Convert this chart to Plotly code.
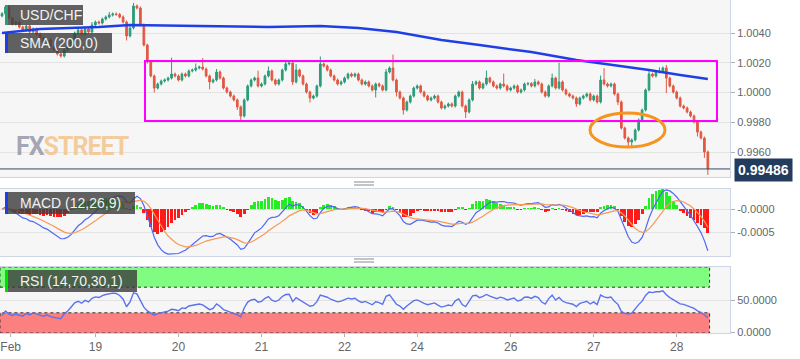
import plotly.graph_objects as go

# ---------------- data ----------------
closes = [
    1.00530, 1.00575, 1.00500, 1.00461, 1.00474, 1.00440, 1.00420, 1.00447, 1.00407, 1.00427,
    1.00393, 1.00366, 1.00340, 1.00353, 1.00306, 1.00286, 1.00259, 1.00245, 1.00286, 1.00313,
    1.00353, 1.00400, 1.00420, 1.00393, 1.00427, 1.00407, 1.00454, 1.00474, 1.00467, 1.00494,
    1.00508, 1.00521, 1.00528, 1.00525, 1.00508, 1.00474, 1.00380, 1.00434, 1.00582, 1.00568,
    1.00454, 1.00319, 1.00205, 1.00111, 1.00030, 1.00057, 1.00077, 1.00084, 1.00097, 1.00124,
    1.00111, 1.00084, 1.00124, 1.00111, 1.00145, 1.00151, 1.00165, 1.00171, 1.00158, 1.00111,
    1.00071, 1.00084, 1.00138, 1.00097, 1.00030, 1.00003, 0.99976, 0.99950, 0.99903, 0.99842,
    0.99950, 1.00044, 1.00084, 1.00097, 1.00044, 1.00057, 1.00111, 1.00145, 1.00084, 1.00057,
    1.00084, 1.00151, 1.00192, 1.00198, 1.00071, 1.00151, 1.00111, 1.00057, 1.00003, 0.99963,
    0.99976, 1.00044, 1.00192, 1.00178, 1.00151, 1.00111, 1.00084, 1.00057, 1.00071, 1.00097,
    1.00124, 1.00111, 1.00124, 1.00084, 1.00057, 1.00071, 1.00044, 1.00017, 1.00057, 1.00044,
    1.00017, 1.00138, 1.00165, 1.00084, 1.00003, 0.99963, 0.99882, 0.99936, 0.99976, 1.00030,
    1.00044, 1.00003, 0.99976, 0.99950, 0.99963, 0.99976, 0.99936, 0.99896, 0.99909, 0.99923,
    0.99909, 0.99976, 1.00003, 0.99909, 0.99869, 0.99950, 1.00057, 1.00071, 1.00030, 1.00057,
    1.00097, 1.00071, 1.00044, 1.00030, 1.00057, 1.00044, 1.00017, 1.00030, 1.00044, 1.00003,
    1.00017, 1.00057, 1.00060, 1.00044, 1.00071, 1.00057, 1.00003, 0.99976, 1.00044, 1.00097,
    1.00030, 1.00071, 1.00017, 0.99990, 0.99976, 0.99963, 0.99923, 0.99963, 0.99976, 0.99990,
    0.99950, 0.99976, 0.99936, 1.00084, 1.00057, 1.00044, 1.00057, 0.99990, 0.99936, 0.99761,
    0.99694, 0.99667, 0.99681, 0.99748, 0.99815, 0.99882, 1.00017, 1.00124, 1.00111, 1.00138,
    1.00140, 1.00165, 1.00097, 1.00044, 1.00003, 0.99963, 0.99909, 0.99896, 0.99869, 0.99842,
    0.99802, 0.99734, 0.99694, 0.99600, 0.99486,
]
first_open = 1.00515

# wick lengths in pips (0.0001)
wick_up_pips = [
    1, 1, 1, 1, 1, 1, 1, 1, 1, 1,
    1, 1, 1, 1, 1, 1, 1, 1, 1, 1,
    1, 1, 1, 1, 1, 1, 2, 1, 1, 1,
    1, 2, 1, 1, 1, 1, 1, 1, 2, 1,
    1, 1, 1, 1, 1, 1, 1, 1, 1, 11,
    1, 1, 1, 1, 1, 1, 3, 1, 6, 1,
    1, 1, 2, 1, 1, 1, 1, 1, 1, 1,
    1, 1, 1, 1, 5, 1, 1, 3, 1, 1,
    1, 1, 2, 1, 1, 4, 1, 1, 1, 1,
    1, 1, 5, 1, 1, 1, 1, 1, 1, 1,
    1, 1, 1, 1, 1, 1, 1, 1, 1, 1,
    1, 2, 1, 9, 1, 1, 1, 1, 1, 1,
    1, 1, 1, 1, 1, 1, 1, 1, 1, 1,
    1, 1, 1, 1, 1, 1, 2, 1, 1, 1,
    5, 1, 1, 1, 1, 7, 1, 1, 1, 1,
    1, 1, 1, 1, 2, 1, 1, 1, 1, 3,
    1, 13, 1, 1, 1, 1, 1, 1, 1, 1,
    1, 1, 1, 3, 8, 1, 1, 1, 1, 1,
    1, 1, 1, 1, 1, 1, 1, 2, 1, 1,
    3, 1, 2, 1, 1, 1, 1, 1, 1, 1,
    1, 1, 1, 1, 1,
]
wick_dn_pips = [
    1, 1, 1, 1, 1, 1, 1, 1, 1, 1,
    1, 1, 1, 1, 1, 1, 1, 1, 1, 1,
    1, 1, 1, 1, 1, 1, 1, 1, 1, 1,
    1, 1, 1, 1, 1, 1, 3, 1, 1, 1,
    1, 1, 1, 1, 3, 1, 1, 1, 1, 1,
    1, 1, 1, 1, 1, 1, 1, 1, 1, 1,
    5, 1, 1, 1, 1, 1, 1, 1, 2, 3,
    1, 1, 1, 1, 1, 1, 1, 1, 1, 1,
    1, 1, 1, 1, 2, 1, 1, 1, 1, 3,
    1, 1, 1, 1, 1, 1, 1, 1, 1, 1,
    1, 1, 1, 1, 1, 1, 1, 1, 5, 1,
    1, 1, 1, 1, 3, 1, 3, 1, 1, 1,
    1, 1, 1, 1, 1, 1, 1, 1, 1, 1,
    1, 1, 1, 1, 4, 1, 1, 1, 1, 1,
    1, 1, 1, 1, 1, 1, 1, 1, 1, 1,
    1, 1, 1, 1, 1, 1, 1, 1, 1, 1,
    1, 1, 1, 1, 1, 1, 2, 1, 1, 1,
    1, 1, 1, 1, 1, 1, 1, 1, 2, 1,
    1, 3, 4, 1, 1, 1, 1, 1, 1, 1,
    1, 1, 10, 1, 1, 1, 1, 1, 1, 1,
    1, 3, 1, 4, 4,
]

sma_idx = [0, 11, 28, 37, 57, 77, 92, 103, 114, 127, 138, 153, 166, 179, 187, 196, 204]
sma_val = [1.00400, 1.00427, 1.00440, 1.00454, 1.00447, 1.00440, 1.00447, 1.00434, 1.00407,
           1.00353, 1.00319, 1.00272, 1.00218, 1.00178, 1.00151, 1.00118, 1.00091]

day_labels = ["Feb", "19", "20", "21", "22", "24", "26", "27", "28"]
day_start_idx = [2.5, 27, 51, 75, 99, 120, 147, 171, 195]

last_price = 0.99486
price_ticks = [1.0040, 1.0020, 1.0000, 0.9980, 0.9960]
macd_ticks = [0.0, -0.0005]
macd_tick_text = ["-0.0000", "-0.0005"]
rsi_ticks = [50, 0]
rsi_tick_text = ["50.0000", "0.0000"]

# ---------------- derived ----------------
n = len(closes)
idx = list(range(n))
opens = [first_open] + closes[:-1]
highs = [max(o, c) + u * 1e-4 for o, c, u in zip(opens, closes, wick_up_pips)]
lows = [min(o, c) - d * 1e-4 for o, c, d in zip(opens, closes, wick_dn_pips)]


def ema(vals, span):
    a = 2.0 / (span + 1)
    out = [vals[0]]
    for v in vals[1:]:
        out.append(out[-1] + a * (v - out[-1]))
    return out


e12 = ema(closes, 12)
e26 = ema(closes, 26)
macd = [a - b for a, b in zip(e12, e26)]
signal = ema(macd, 9)
hist = [m - s for m, s in zip(macd, signal)]

diffs = [0.0] + [closes[i] - closes[i - 1] for i in range(1, n)]
gains = [max(d, 0) for d in diffs]
losses = [max(-d, 0) for d in diffs]
ag = sum(gains[1:15]) / 14
al = sum(losses[1:15]) / 14
rsi = []
for i in range(n):
    if i > 0:
        ag = (ag * 13 + gains[i]) / 14
        al = (al * 13 + losses[i]) / 14
    rsi.append(100 - 100 / (1 + ag / al) if al > 0 else 100)

# ---------------- styling ----------------
W, H = 800, 359
UP = "#2b9c79"
DN = "#e25843"
GRID = "#e3e3e3"
BORDER = "#cdd4e4"
TXT = "#666666"
FONT = "Arial, Liberation Sans, sans-serif"
XR = [-0.58, 210.4]


def px(x):
    return x / W


def py(y):
    return 1 - y / H


fig = go.Figure()
fig.add_trace(go.Candlestick(
    x=idx, open=opens, high=highs, low=lows, close=closes,
    increasing=dict(line=dict(color=UP, width=1), fillcolor=UP),
    decreasing=dict(line=dict(color=DN, width=1), fillcolor=DN),
    whiskerwidth=0, showlegend=False, hoverinfo="skip", xaxis="x", yaxis="y"))
fig.add_trace(go.Scatter(x=sma_idx, y=sma_val, mode="lines",
                         line=dict(color="#1f3fe6", width=2.5),
                         showlegend=False, hoverinfo="skip", xaxis="x", yaxis="y"))
fig.add_trace(go.Scatter(x=[XR[0], XR[1]], y=[last_price, last_price], mode="lines",
                         line=dict(color="#34486a", width=1),
                         showlegend=False, hoverinfo="skip", xaxis="x", yaxis="y"))

fig.add_trace(go.Bar(x=idx, y=hist, width=0.8,
                     marker=dict(color=["#22ee22" if h >= 0 else "#ff1a1a" for h in hist],
                                 line=dict(width=0)),
                     showlegend=False, hoverinfo="skip", xaxis="x2", yaxis="y2"))
fig.add_trace(go.Scatter(x=idx, y=macd, mode="lines", line=dict(color="#5068f2", width=1.2),
                         showlegend=False, hoverinfo="skip", xaxis="x2", yaxis="y2"))
fig.add_trace(go.Scatter(x=idx, y=signal, mode="lines", line=dict(color="#f59a55", width=1.2),
                         showlegend=False, hoverinfo="skip", xaxis="x2", yaxis="y2"))

fig.add_trace(go.Scatter(x=idx, y=rsi, mode="lines", line=dict(color="#5a72ee", width=1.4),
                         showlegend=False, hoverinfo="skip", xaxis="x3", yaxis="y3"))

axis_common = dict(showline=True, mirror=True, linecolor=BORDER, linewidth=1, zeroline=False,
                   automargin=False)
yax_common = dict(side="right", showgrid=True, gridcolor=GRID, gridwidth=1,
                  ticks="outside", ticklen=4, tickcolor="#b0b0b0",
                  tickfont=dict(family=FONT, size=11, color=TXT), **axis_common)

fig.update_layout(
    width=W, height=H, margin=dict(l=0, r=0, t=0, b=0, pad=0, autoexpand=False),
    paper_bgcolor="#ffffff", plot_bgcolor="#f6f6f6",
    showlegend=False, bargap=0,
    xaxis=dict(domain=[0, 0.9125], range=XR, showticklabels=False, showgrid=False,
               anchor="y", rangeslider=dict(visible=False), **axis_common),
    xaxis2=dict(domain=[0, 0.9125], range=XR, showticklabels=False, showgrid=False,
                anchor="y2", matches="x", **axis_common),
    xaxis3=dict(domain=[0, 0.9125], range=XR, showgrid=False, anchor="y3", matches="x",
                tickmode="array", tickvals=day_start_idx, ticktext=day_labels,
                ticks="outside", ticklen=3, tickcolor="#b0b0b0",
                tickfont=dict(family=FONT, size=12, color=TXT), **axis_common),
    yaxis=dict(domain=[py(177), 1.0], range=[0.994319, 1.006219],
               tickmode="array", tickvals=price_ticks,
               ticktext=["%.4f" % v for v in price_ticks], anchor="x", **yax_common),
    yaxis2=dict(domain=[py(256), py(189)], range=[-0.001022, 0.000435],
                tickmode="array", tickvals=macd_ticks, ticktext=macd_tick_text,
                anchor="x2", **yax_common),
    yaxis3=dict(domain=[py(333), py(267)], range=[-1.56, 101.56],
                tickmode="array", tickvals=rsi_ticks, ticktext=rsi_tick_text,
                anchor="x3", **yax_common),
)

shapes = []
# RSI bands
shapes.append(dict(type="rect", xref="x3", yref="y3", x0=XR[0], x1=n - 0.5, y0=70, y1=101.56,
                   fillcolor="#80fc80", line=dict(color="#333333", width=1, dash="dot"),
                   layer="between"))
shapes.append(dict(type="rect", xref="x3", yref="y3", x0=XR[0], x1=n - 0.5, y0=-1.56, y1=30,
                   fillcolor="#fd8080", line=dict(color="#333333", width=1, dash="dot"),
                   layer="between"))
# magenta range box
shapes.append(dict(type="rect", xref="paper", yref="paper", x0=px(145), x1=px(717),
                   y0=py(121), y1=py(61), line=dict(color="#ff00ff", width=2)))
# orange ellipse
shapes.append(dict(type="circle", xref="paper", yref="paper", x0=px(590), x1=px(665),
                   y0=py(147), y1=py(113), line=dict(color="#f7941d", width=3)))
# separators
for yy in (182, 185, 259, 262):
    shapes.append(dict(type="line", xref="paper", yref="paper", x0=px(354), x1=px(374),
                       y0=py(yy), y1=py(yy), line=dict(color="#8a8a8a", width=1)))
# label boxes and colour bars
labels = [
    ("USD/CHF", 5, 25, 83, UP),
    ("SMA (200,0)", 33, 53, 112, "#1f3fe6"),
    ("MACD (12,26,9)", 192, 214, 135, "#1f3fe6"),
    ("RSI (14,70,30,1)", 270, 292, 137, "#00e000"),
]
annotations = []
for text, y0, y1, x1, col in labels:
    shapes.append(dict(type="rect", xref="paper", yref="paper", x0=px(8), x1=px(x1),
                       y0=py(y1), y1=py(y0), fillcolor="rgba(62,62,62,0.82)", line=dict(width=0)))
    shapes.append(dict(type="rect", xref="paper", yref="paper", x0=px(5), x1=px(8),
                       y0=py(y1), y1=py(y0), fillcolor=col, line=dict(width=0)))
    annotations.append(dict(xref="paper", yref="paper", x=px(18), y=py((y0 + y1) / 2),
                            xanchor="left", yanchor="middle", showarrow=False, text=text,
                            font=dict(family=FONT, size=14, color="#f2f2f2")))

# watermark
annotations.append(dict(xref="paper", yref="paper", x=px(14), y=py(146), xanchor="left",
                        yanchor="middle", showarrow=False,
                        text="<b><span style='color:rgba(150,150,170,0.85);letter-spacing:-1px'>FX</span>"
                             "<span style='color:rgba(244,196,140,0.85);letter-spacing:-1px'>STREET</span></b>",
                        font=dict(family="Roboto, Arial, sans-serif", size=25)))
# last price label
annotations.append(dict(xref="paper", yref="paper", x=px(763), y=py(170), xanchor="center",
                        yanchor="middle", showarrow=False, text="<b>0.99486</b>",
                        bgcolor="#233c5e", borderpad=3,
                        font=dict(family=FONT, size=14, color="#ffffff")))

fig.update_layout(shapes=shapes, annotations=annotations)
fig.write_html("out.html", config={"displayModeBar": False},
               post_script="document.body.style.margin='0px';")
